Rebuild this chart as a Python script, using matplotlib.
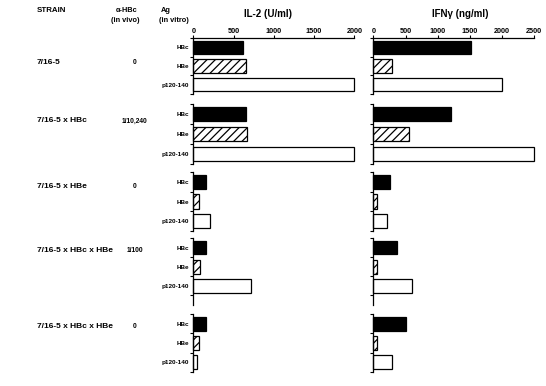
import matplotlib
matplotlib.use("Agg")
import matplotlib.pyplot as plt

strains = ["7/16-5", "7/16-5 x HBc", "7/16-5 x HBe", "7/16-5 x HBc x HBe", "7/16-5 x HBc x HBe"]
anti_hbc = ["0", "1/10,240", "0", "1/100", "0"]
antigens = ["HBc", "HBe", "p120-140"]

il2_hbc = [614, 655, 158, 158, 158]
il2_hbe = [655, 663, 67, 79, 71]
il2_p120 = [2000, 2000, 203, 713, 42]

ifn_hbc = [1512, 1211, 254, 363, 508]
ifn_hbe = [286, 559, 57, 52, 57]
ifn_p120 = [2000, 2500, 207, 605, 286]

il2_ticks = [0, 500, 1000, 1500, 2000]
ifn_ticks = [0, 500, 1000, 1500, 2000, 2500]

plt.rcParams['font.family'] = ['Liberation Sans', 'DejaVu Sans']
plt.rcParams['hatch.linewidth'] = 0.9

W, H = 546, 386
fig = plt.figure(figsize=(W / 100, H / 100), dpi=100)

# group layout in pixels (top, bottom, y_max)
groups = [(38, 94, 2.5), (104, 164, 2.5), (172, 231, 2.5), (238, 305, 3.0), (314, 372, 2.5)]
cols = [
    dict(x0=193.3, x1=354.3, xmax=2000, ticks=il2_ticks,
         data=(il2_hbc, il2_hbe, il2_p120), labels=True),
    dict(x0=373.3, x1=534.3, xmax=2500, ticks=ifn_ticks,
         data=(ifn_hbc, ifn_hbe, ifn_p120), labels=False),
]

styles = [dict(color='black', edgecolor='black'),
          dict(color='white', edgecolor='black', hatch='////'),
          dict(color='white', edgecolor='black')]

for c in cols:
    for gi, (top, bot, ymax) in enumerate(groups):
        ax = fig.add_axes([c['x0'] / W, 1 - bot / H, (c['x1'] - c['x0']) / W, (bot - top) / H])
        vals = [c['data'][k][gi] for k in range(3)]
        for k in range(3):
            ax.barh(k, vals[k], height=0.72, linewidth=0.9, clip_on=False, **styles[k])
        ax.set_xlim(0, c['xmax'])
        ax.set_ylim(ymax, -0.5)
        for s in ['right', 'bottom']:
            ax.spines[s].set_visible(False)
        ax.spines['left'].set_linewidth(0.9)
        ax.set_yticks(range(3))
        if c['labels']:
            ax.set_yticklabels(antigens, fontsize=4.6, fontweight='bold')
        else:
            ax.set_yticklabels([])
        ax.tick_params(axis='y', which='major', length=0, pad=3)
        ax.set_yticks([-0.5, 0.5, 1.5, 2.5], minor=True)
        ax.tick_params(axis='y', which='minor', length=2.5, width=0.8, direction='out')
        if gi == 0:
            ax.spines['top'].set_linewidth(0.9)
            ax.xaxis.tick_top()
            ax.set_xticks(c['ticks'])
            ax.set_xticklabels([str(t) for t in c['ticks']], fontsize=5.2, fontweight='bold')
            ax.tick_params(axis='x', length=2, width=0.8, pad=0.5)
        else:
            ax.spines['top'].set_visible(False)
            ax.set_xticks([])

def ftext(x, y, s, **kw):
    fig.text(x / W, 1 - y / H, s, va='center', fontweight='bold', **kw)

ftext(37, 11, "STRAIN", fontsize=5.7, ha='left')
ftext(127, 11, "α-HBc", fontsize=5.3, ha='center')
ftext(125.5, 21, "(in vivo)", fontsize=5.3, ha='center')
ftext(166, 11, "Ag", fontsize=5.3, ha='center')
ftext(173.5, 21, "(in vitro)", fontsize=5.3, ha='center')
ftext(268, 14, "IL-2 (U/ml)", fontsize=7, ha='center')
ftext(460, 14, "IFNγ (ng/ml)", fontsize=7, ha='center')

strain_y = [62, 121, 187, 251, 327]
for s, a, y in zip(strains, anti_hbc, strain_y):
    ftext(37, y, s, fontsize=6, ha='left')
    ftext(135, y, a, fontsize=4.8, ha='center')

fig.savefig("out.png", dpi=100)
